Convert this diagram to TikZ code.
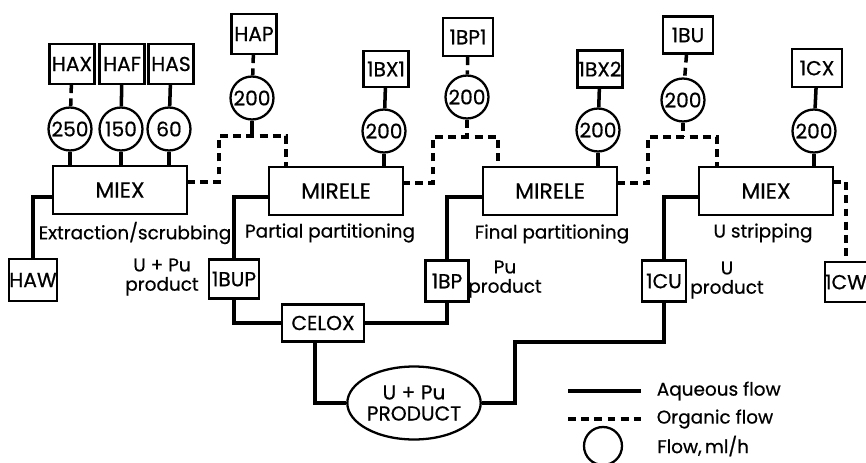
\documentclass[tikz,border=0pt]{standalone}
\usepackage{fontspec}
\setmainfont{Poppins}[BoldFont={Poppins}, BoldFeatures={FakeBold=0.6}]
\usetikzlibrary{shapes.geometric}

\begin{document}
\begin{tikzpicture}[
    x=0.02cm, y=-0.02cm,
    every node/.style={font=\fontsize{11.5}{12}\selectfont\bfseries, inner sep=0pt},
    box/.style={draw, line width=1.3pt, minimum width=0.9cm, minimum height=0.8cm},
    bigbox/.style={draw, line width=1.3pt, minimum width=2.68cm, minimum height=0.95cm, font=\fontsize{12.5}{13}\selectfont\bfseries},
    ratecircle/.style={circle, draw, line width=1.3pt, minimum size=0.86cm, inner sep=0pt},
    aq/.style={line width=2pt},
    org/.style={line width=2pt, dash pattern=on 4.5pt off 3pt},
    caption/.style={align=center, font=\fontsize{10.5}{11}\selectfont\bfseries}
  ]
    \useasboundingbox (0,0) rectangle (866,463);

    % feed and product boxes
    \node[box] (hax) at (72,64) {HAX};
    \node[box] (haf) at (122,64) {HAF};
    \node[box] (has) at (171,64) {HAS};
    \node[box] (hap) at (254,34) {HAP};
    \node[box, minimum height=0.72cm] (bxone) at (386,69) {1BX1};
    \node[box, minimum width=1cm, minimum height=0.76cm] (bpone) at (468,37) {1BP1};
    \node[box, minimum height=0.74cm] (bxtwo) at (600,69) {1BX2};
    \node[box, minimum width=1cm, minimum height=0.74cm] (bu) at (688,35) {1BU};
    \node[box, minimum width=1cm, minimum height=0.76cm] (cx) at (817,68) {1CX};

    % flow rates
    \node[ratecircle] (rhax) at (70,129) {250};
    \node[ratecircle] (rhaf) at (121,129) {150};
    \node[ratecircle] (rhas) at (169,129) {60};
    \node[ratecircle] (rhap) at (252,98) {200};
    \node[ratecircle] (rbxone) at (384,131) {200};
    \node[ratecircle] (rbpone) at (467,97) {200};
    \node[ratecircle] (rbxtwo) at (598,130) {200};
    \node[ratecircle] (rbu) at (683,100) {200};
    \node[ratecircle] (rcx) at (814,131) {200};

    % contactors
    \node[bigbox] (miex) at (120,190) {MIEX};
    \node[bigbox] (mireleA) at (336,191) {MIRELE};
    \node[bigbox] (mireleB) at (550,191) {MIRELE};
    \node[bigbox] (miexB) at (766,191) {MIEX};

    \node[caption] (capA) at (135,233) {Extraction/scrubbing};
    \node[caption] (capB) at (330,233) {Partial partitioning};
    \node[caption] (capC) at (552,234) {Final partitioning};
    \node[caption] (capD) at (763,233) {U stripping};

    % outlets
    \node[box, minimum width=0.96cm, minimum height=0.84cm] (haw) at (33,280) {HAW};
    \node[box, minimum width=1cm, minimum height=0.78cm] (bup) at (234,279) {1BUP};
    \node[box, minimum width=0.86cm, minimum height=0.82cm] (bp) at (447,281) {1BP};
    \node[box, minimum width=0.88cm, minimum height=0.82cm] (cu) at (664,281) {1CU};
    \node[box, minimum width=0.8cm, minimum height=0.8cm] (cw) at (846,282) {1CW};

    \node[caption] (upuLabel) at (162,277) {U + Pu\\product};
    \node[caption] (puLabel) at (505,279) {Pu\\product};
    \node[caption] (uLabel) at (727,280) {U\\product};

    \node[box, minimum width=1.64cm, minimum height=0.74cm] (celox) at (323,323) {CELOX};
    \node[ellipse, draw, line width=1.3pt, minimum width=2.56cm, minimum height=1.46cm, align=center, inner sep=0pt] (product) at (414,403) {U + Pu\\PRODUCT};

    % feeds into the contactors
    \draw[org] (hax) -- (rhax);
    \draw[aq] (haf) -- (rhaf);
    \draw[aq] (has) -- (rhas);
    \draw[aq] (rhax) -- (rhax |- miex.north);
    \draw[aq] (rhaf) -- (rhaf |- miex.north);
    \draw[aq] (rhas) -- (rhas |- miex.north);
    \draw[org] (hap) -- (rhap);
    \draw[aq] (bxone) -- (rbxone);
    \draw[aq] (rbxone) -- (rbxone |- mireleA.north);
    \draw[org] (bpone) -- (rbpone);
    \draw[aq] (bxtwo) -- (rbxtwo);
    \draw[aq] (rbxtwo) -- (rbxtwo |- mireleB.north);
    \draw[org] (bu) -- (rbu);
    \draw[aq] (cx) -- (rcx);
    \draw[aq] (rcx) -- (rcx |- miexB.north);

    % organic flow between stages
    \coordinate (orgA) at (252,136);
    \coordinate (orgB) at (467,137);
    \coordinate (orgC) at (683,137);
    \draw[aq] (rhap) -- (orgA);
    \draw[org] (rbpone) -- (orgB);
    \draw[org] (rbu) -- (orgC);
    \draw[org] (187,182) -| (219,136) -| (mireleA.north -| 286,0);
    \draw[org] (402,183) -| (433,137) -| (mireleB.north -| 498,0);
    \draw[org] (617,183) -| (648,137) -| (miexB.north -| 717,0);
    \draw[org] (833,182) -| (cw.north);

    % aqueous outlets
    \draw[aq] (miex.west |- 0,197) -| (haw.north);
    \draw[aq] (mireleA.west |- 0,197) -| (bup.north);
    \draw[aq] (mireleB.west |- 0,197) -| (bp.north);
    \draw[aq] (miexB.west |- 0,197) -| (cu.north);
    \draw[aq] (bup.south) |- (celox.west);
    \draw[aq] (bp.south) |- (celox.east);
    \draw[aq] (celox.south -| 315,0) |- (product.west);
    \draw[aq] (cu.south) |- (515,342) |- (product.east);

    % legend
    \coordinate (legA) at (568,391);
    \coordinate (legB) at (568,419);
    \draw[aq] (legA) -- ++(73,0) node[right=8pt, anchor=west, caption] (aqText) {Aqueous flow};
    \draw[org] (legB) -- ++(73,0) node[right=8pt, anchor=west, caption] (orgText) {Organic flow};
    \node[circle, draw, line width=1.3pt, minimum size=0.76cm] (legCircle) at (603,446) {};
    \node[anchor=west, caption] (rateText) at (657,446) {Flow,\,ml/h};
\end{tikzpicture}
\end{document}
